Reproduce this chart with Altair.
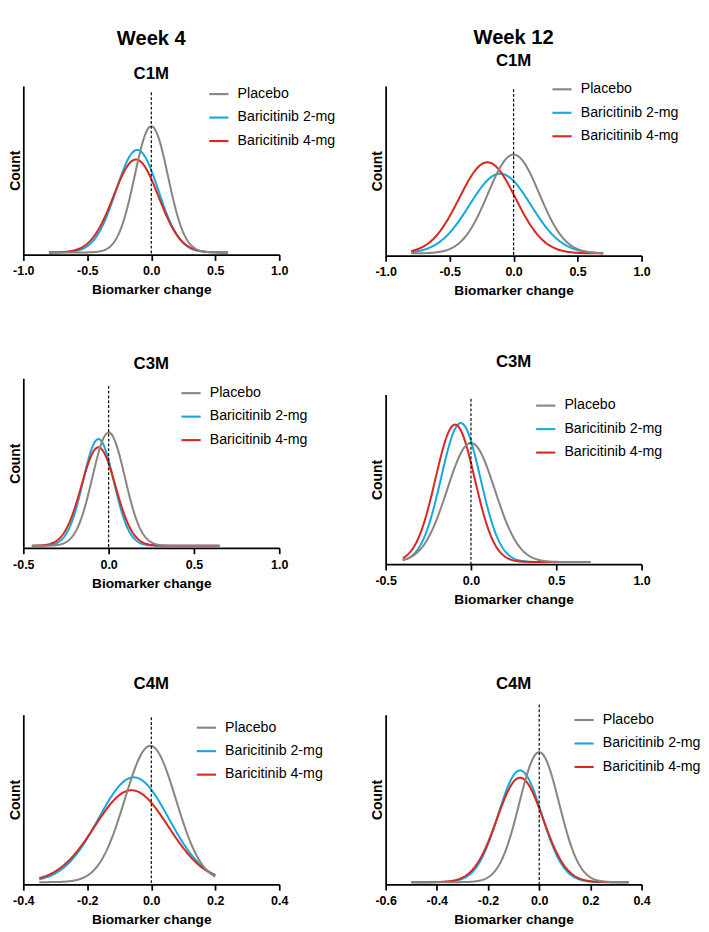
import altair as alt
import numpy as np
import pandas as pd

# ---------------- data ----------------
groups = ["Placebo", "Baricitinib 2-mg", "Baricitinib 4-mg"]
colors = ["#8b847f", "#16a8e1", "#d9291f"]

# panel order: Week 4 C1M, C3M, C4M, then Week 12 C1M, C3M, C4M
panel_week = ["Week 4", "Week 4", "Week 4", "Week 12", "Week 12", "Week 12"]
panel_marker = ["C1M", "C3M", "C4M", "C1M", "C3M", "C4M"]

# fitted Gaussian curves (centre, SD, peak height as share of the Count axis)
mean_placebo = [0.0, 0.0, -0.003, 0.0, 0.0, 0.0]
mean_2mg = [-0.11, -0.06, -0.055, -0.105, -0.06, -0.075]
mean_4mg = [-0.12, -0.06, -0.062, -0.205, -0.093, -0.075]
sd_placebo = [0.13, 0.095, 0.08, 0.20, 0.14, 0.078]
sd_2mg = [0.165, 0.09, 0.11, 0.24, 0.115, 0.085]
sd_4mg = [0.175, 0.10, 0.115, 0.22, 0.115, 0.09]
peak_placebo = [0.748, 0.667, 0.804, 0.582, 0.702, 0.766]
peak_2mg = [0.608, 0.629, 0.618, 0.470, 0.819, 0.659]
peak_4mg = [0.551, 0.580, 0.542, 0.537, 0.810, 0.616]
curve_from = [-0.8, -0.45, -0.35, -0.8, -0.4, -0.5]
curve_to = [0.6, 0.65, 0.2, 0.7, 0.7, 0.35]

# x axes
x_min = [-1.0, -0.5, -0.4, -1.0, -0.5, -0.6]
x_max = [1.0, 1.0, 0.4, 1.0, 1.0, 0.4]
x_ticks = [
    [-1.0, -0.5, 0.0, 0.5, 1.0],
    [-0.5, 0.0, 0.5, 1.0],
    [-0.4, -0.2, 0.0, 0.2, 0.4],
    [-1.0, -0.5, 0.0, 0.5, 1.0],
    [-0.5, 0.0, 0.5, 1.0],
    [-0.6, -0.4, -0.2, 0.0, 0.2, 0.4],
]
# dashed reference line at 0: its top, as share of the Count axis
dash_top = [0.962, 0.955, 0.985, 0.981, 0.975, 1.06]

# ---------------- layout / style (same panel order as above) ----------------
Y_FLOOR = -0.013
FONT = "Liberation Sans"
PLOT_W = 267
PLOT_H = [176, 177, 177, 177, 177, 177]
legend_xy = [(192.5, -3), (163.5, 4), (179.5, 2), (172.5, -8), (155.5, 0), (195.5, -6)]
title_offset = [1, 6, 23, 9, 25, 12]
subtitle_pad = [17, 5]


def panel(i):
    draw_order = [1, 2, 0]  # 2-mg, 4-mg, placebo on top
    means = [mean_placebo[i], mean_2mg[i], mean_4mg[i]]
    sds = [sd_placebo[i], sd_2mg[i], sd_4mg[i]]
    peaks = [peak_placebo[i], peak_2mg[i], peak_4mg[i]]
    frames = []
    for k in draw_order:
        xs = np.linspace(curve_from[i], curve_to[i], 281)
        ys = peaks[k] * np.exp(-0.5 * ((xs - means[k]) / sds[k]) ** 2)
        frames.append(pd.DataFrame({"group": groups[k], "x": xs, "y": ys}))
    df = pd.concat(frames, ignore_index=True)

    xscale = alt.Scale(domain=[x_min[i], x_max[i]], nice=False, zero=False)
    yscale = alt.Scale(domain=[Y_FLOOR, 1 + Y_FLOOR], nice=False, zero=False)
    xaxis = alt.Axis(
        values=x_ticks[i],
        labelExpr="(datum.value < 0 ? '-' : '') + format(abs(datum.value), '.1f')",
        title="Biomarker change",
        grid=False,
        tickSize=6,
        tickWidth=1.8,
        tickColor="black",
        domainColor="black",
        domainWidth=1.8,
        labelFont=FONT,
        labelFontSize=13,
        labelFontWeight="bold",
        labelColor="black",
        labelPadding=5,
        labelFlush=False,
        labelOverlap=False,
        titleFont=FONT,
        titleFontSize=14.3,
        titleFontWeight="bold",
        titleColor="black",
        titlePadding=6,
    )
    yaxis = alt.Axis(
        title="Count",
        labels=False,
        ticks=False,
        grid=False,
        domainColor="black",
        domainWidth=1.8,
        titleFont=FONT,
        titleFontSize=14.5,
        titleFontWeight="bold",
        titleColor="black",
        titlePadding=1,
    )
    lx, ly = legend_xy[i]
    legend = alt.Legend(
        orient="none",
        legendX=lx,
        legendY=ly,
        direction="vertical",
        title=None,
        symbolType="stroke",
        symbolSize=400,
        symbolStrokeWidth=2.2,
        labelFont=FONT,
        labelFontSize=14.8,
        labelColor="black",
        labelOffset=8,
        labelLimit=300,
        rowPadding=5.5,
        padding=0,
    )
    lines = alt.Chart(df).mark_line(strokeWidth=2.1).encode(
        x=alt.X("x:Q", scale=xscale, axis=xaxis),
        y=alt.Y("y:Q", scale=yscale, axis=yaxis),
        color=alt.Color("group:N", scale=alt.Scale(domain=groups, range=colors), legend=legend),
        detail="group:N",
    )
    rule_df = pd.DataFrame({"x": [0.0], "ytop": [dash_top[i] + Y_FLOOR], "ybot": [Y_FLOOR]})
    rule = alt.Chart(rule_df).mark_rule(color="black", strokeDash=[3, 2], strokeWidth=1.2).encode(
        x=alt.X("x:Q", scale=xscale, axis=xaxis),
        y=alt.Y("ytop:Q", scale=yscale, axis=yaxis),
        y2="ybot:Q",
    )
    col = 0 if i < 3 else 1
    if i % 3 == 0:
        title = alt.TitleParams(
            text=panel_week[i],
            subtitle=panel_marker[i],
            font=FONT,
            fontSize=21,
            fontWeight="bold",
            color="black",
            subtitleFont=FONT,
            subtitleFontSize=17.5,
            subtitleFontWeight="bold",
            subtitleColor="black",
            subtitlePadding=subtitle_pad[col],
            anchor="middle",
            frame="group",
            offset=title_offset[i],
        )
    else:
        title = alt.TitleParams(
            text=panel_marker[i],
            font=FONT,
            fontSize=17.5,
            fontWeight="bold",
            color="black",
            anchor="middle",
            frame="group",
            offset=title_offset[i],
        )
    return alt.layer(lines, rule).properties(width=PLOT_W, height=PLOT_H[i], title=title)


def column(start, sp_a, sp_b):
    inner = alt.vconcat(panel(start + 1), panel(start + 2), spacing=sp_b).resolve_scale(
        x="independent", y="independent", color="independent"
    )
    return alt.vconcat(panel(start), inner, spacing=sp_a).resolve_scale(
        x="independent", y="independent", color="independent"
    )


chart = (
    alt.hconcat(column(0, 60, 88), column(3, 57, 71), spacing=36)
    .resolve_scale(x="independent", y="independent", color="independent")
    .properties(padding=0, background="white")
    .configure(font=FONT)
    .configure_view(stroke=None)
)

chart.save("out.html", embed_options={"renderer": "svg", "actions": False})
